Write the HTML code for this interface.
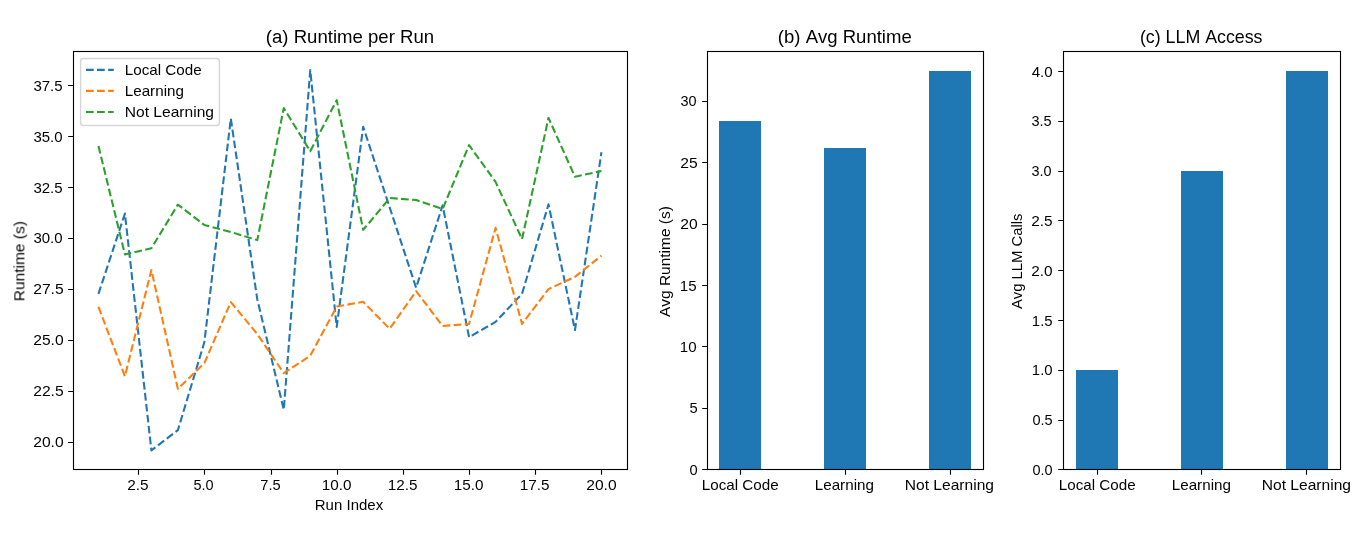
<!DOCTYPE html>
<html><head><meta charset="utf-8"><title>Runtime comparison</title>
<style>html,body{margin:0;padding:0;background:#fff;width:1370px;height:549px;overflow:hidden}svg{display:block}text{font-family:"Liberation Sans",sans-serif}</style>
</head><body>
<svg width="1370" height="549" viewBox="0 0 1370 549"><rect x="0" y="0" width="1370" height="549" fill="#ffffff"/>
<rect x="719" y="121" width="42" height="348.5" fill="#1f77b4"/>
<rect x="824" y="148" width="42" height="321.5" fill="#1f77b4"/>
<rect x="929" y="71" width="42" height="398.5" fill="#1f77b4"/>
<rect x="1076" y="370" width="42" height="99.5" fill="#1f77b4"/>
<rect x="1181" y="171" width="42" height="298.5" fill="#1f77b4"/>
<rect x="1286" y="71" width="42" height="398.5" fill="#1f77b4"/>
<polyline points="98.45,293.86 124.92,213.56 151.4,450.39 177.87,430.16 204.34,342.29 230.82,118.54 257.29,299.38 283.77,409.72 310.24,70.11 336.71,326.97 363.19,126.72 389.66,207.43 416.13,287.73 442.61,205.39 469.08,337.18 495.56,321.86 522.03,293.86 548.5,204.36 574.98,330.03 601.45,152.26" fill="none" stroke="#1f77b4" stroke-width="2.08" stroke-dasharray="7.71 3.33" stroke-linecap="butt" stroke-linejoin="round"/>
<polyline points="98.45,306.94 124.92,376.21 151.4,269.96 177.87,388.88 204.34,363.13 230.82,302.04 257.29,334.12 283.77,373.15 310.24,355.78 336.71,306.53 363.19,301.83 389.66,328.81 416.13,291.21 442.61,325.94 469.08,323.9 495.56,227.86 522.03,323.9 548.5,289.16 574.98,276.9 601.45,255.65" fill="none" stroke="#ff7f0e" stroke-width="2.08" stroke-dasharray="7.71 3.33" stroke-linecap="butt" stroke-linejoin="round"/>
<polyline points="98.45,145.92 124.92,254.43 151.4,248.3 177.87,204.57 204.34,225 230.82,231.95 257.29,240.12 283.77,108.12 310.24,151.24 336.71,100.15 363.19,229.91 389.66,198.03 416.13,200.07 442.61,209.06 469.08,145.11 495.56,181.89 522.03,239.1 548.5,117.93 574.98,176.78 601.45,171.06" fill="none" stroke="#2ca02c" stroke-width="2.08" stroke-dasharray="7.71 3.33" stroke-linecap="butt" stroke-linejoin="round"/>
<rect x="73.5" y="51.5" width="554" height="418" fill="none" stroke="#000" stroke-width="1.11" stroke-linejoin="miter"/>
<rect x="707.5" y="51.5" width="276" height="418" fill="none" stroke="#000" stroke-width="1.11" stroke-linejoin="miter"/>
<rect x="1063.5" y="51.5" width="277" height="418" fill="none" stroke="#000" stroke-width="1.11" stroke-linejoin="miter"/>
<path d="M138.5 469.5V474.81M204.5 469.5V474.81M271.5 469.5V474.81M337.5 469.5V474.81M403.5 469.5V474.81M469.5 469.5V474.81M535.5 469.5V474.81M601.5 469.5V474.81M73.5 85.5H68.19M73.5 136.5H68.19M73.5 187.5H68.19M73.5 238.5H68.19M73.5 289.5H68.19M73.5 340.5H68.19M73.5 391.5H68.19M73.5 442.5H68.19M740.5 469.5V474.81M845.5 469.5V474.81M950.5 469.5V474.81M707.5 101.5H702.19M707.5 162.5H702.19M707.5 224.5H702.19M707.5 285.5H702.19M707.5 346.5H702.19M707.5 408.5H702.19M707.5 469.5H702.19M1097.5 469.5V474.81M1201.5 469.5V474.81M1306.5 469.5V474.81M1063.5 71.5H1058.19M1063.5 121.5H1058.19M1063.5 171.5H1058.19M1063.5 220.5H1058.19M1063.5 270.5H1058.19M1063.5 320.5H1058.19M1063.5 370.5H1058.19M1063.5 420.5H1058.19M1063.5 469.5H1058.19" stroke="#000" stroke-width="1.11" fill="none"/>
<rect x="80.6" y="58.5" width="138.85" height="67" rx="2.78" ry="2.78" fill="#ffffff" fill-opacity="0.8" stroke="#cccccc" stroke-opacity="0.8" stroke-width="1.39"/>
<path d="M86 69.9H113.78" stroke="#1f77b4" stroke-width="2.08" stroke-dasharray="7.71 3.33" fill="none"/>
<path d="M86 90.9H113.78" stroke="#ff7f0e" stroke-width="2.08" stroke-dasharray="7.71 3.33" fill="none"/>
<path d="M86 112H113.78" stroke="#2ca02c" stroke-width="2.08" stroke-dasharray="7.71 3.33" fill="none"/>
<g font-family="'Liberation Sans', sans-serif" fill="#000" style="font-kerning:none" opacity="0.999"><text transform="translate(314.77,509.68) scale(1.0194,1)" font-size="14.717">Run Index</text><text transform="translate(127.22,490.12) scale(1.0471,1)" font-size="14.717">2.5</text><text transform="translate(193.42,490.12) scale(0.9847,1)" font-size="14.717">5.0</text><text transform="translate(260.25,490.12) scale(0.9955,1)" font-size="14.717">7.5</text><text transform="translate(321.84,490.12) scale(1.0391,1)" font-size="14.717">10.0</text><text transform="translate(387.83,490.12) scale(1.0407,1)" font-size="14.717">12.5</text><text transform="translate(453.84,490.12) scale(1.0391,1)" font-size="14.717">15.0</text><text transform="translate(519.83,490.12) scale(1.0407,1)" font-size="14.717">17.5</text><text transform="translate(586.21,490.12) scale(1.0612,1)" font-size="14.717">20.0</text><text transform="translate(24.4,301.27) rotate(-90) scale(1.0551,1)" font-size="14.717">Runtime (s)</text><text transform="translate(33.21,446.92) scale(1.0612,1)" font-size="14.717">20.0</text><text transform="translate(33.21,396.06) scale(1.0628,1)" font-size="14.717">22.5</text><text transform="translate(33.21,345.21) scale(1.0612,1)" font-size="14.717">25.0</text><text transform="translate(33.21,294.35) scale(1.0628,1)" font-size="14.717">27.5</text><text transform="translate(33.43,243.49) scale(1.0179,1)" font-size="14.717">30.0</text><text transform="translate(33.43,192.63) scale(1.0195,1)" font-size="14.717">32.5</text><text transform="translate(33.43,141.78) scale(1.0179,1)" font-size="14.717">35.0</text><text transform="translate(33.43,90.92) scale(1.0195,1)" font-size="14.717">37.5</text><text transform="translate(265.85,42.77) scale(1.0523,1)" font-size="17.660">(a) Runtime per Run</text><text transform="translate(124.75,74.6) scale(1.0332,1)" font-size="14.717">Local Code</text><text transform="translate(124.75,95.54) scale(1.0340,1)" font-size="14.717">Learning</text><text transform="translate(124.72,117.3) scale(1.0595,1)" font-size="14.717">Not Learning</text><text transform="translate(701.75,490.12) scale(1.0332,1)" font-size="14.717">Local Code</text><text transform="translate(814.75,490.12) scale(1.0340,1)" font-size="14.717">Learning</text><text transform="translate(904.72,490.12) scale(1.0595,1)" font-size="14.717">Not Learning</text><text transform="translate(670.1,317.03) rotate(-90) scale(1.0521,1)" font-size="14.717">Avg Runtime (s)</text><text transform="translate(689.43,474.9) scale(0.9950,1)" font-size="14.717">0</text><text transform="translate(689.41,413.44) scale(1.0032,1)" font-size="14.717">5</text><text transform="translate(679.85,351.98) scale(1.0222,1)" font-size="14.717">10</text><text transform="translate(679.85,290.52) scale(1.0252,1)" font-size="14.717">15</text><text transform="translate(680.21,229.06) scale(1.0628,1)" font-size="14.717">20</text><text transform="translate(680.21,167.6) scale(1.0658,1)" font-size="14.717">25</text><text transform="translate(680.45,106.14) scale(0.9846,1)" font-size="14.717">30</text><text transform="translate(777.85,42.77) scale(1.0500,1)" font-size="17.660">(b) Avg Runtime</text><text transform="translate(1058.75,490.12) scale(1.0332,1)" font-size="14.717">Local Code</text><text transform="translate(1171.75,490.12) scale(1.0340,1)" font-size="14.717">Learning</text><text transform="translate(1261.72,490.12) scale(1.0595,1)" font-size="14.717">Not Learning</text><text transform="translate(1022.12,309.03) rotate(-90) scale(1.0073,1)" font-size="14.717">Avg LLM Calls</text><text transform="translate(1032.43,474.9) scale(0.9840,1)" font-size="14.717">0.0</text><text transform="translate(1032.43,425.1) scale(0.9862,1)" font-size="14.717">0.5</text><text transform="translate(1031.86,375.3) scale(1.0127,1)" font-size="14.717">1.0</text><text transform="translate(1031.86,325.51) scale(1.0150,1)" font-size="14.717">1.5</text><text transform="translate(1031.23,275.71) scale(1.0447,1)" font-size="14.717">2.0</text><text transform="translate(1031.22,225.91) scale(1.0471,1)" font-size="14.717">2.5</text><text transform="translate(1031.45,176.11) scale(0.9833,1)" font-size="14.717">3.0</text><text transform="translate(1031.45,126.32) scale(0.9855,1)" font-size="14.717">3.5</text><text transform="translate(1031.65,76.52) scale(1.0232,1)" font-size="14.717">4.0</text><text transform="translate(1139.9,42.77) scale(1.0088,1)" font-size="17.660">(c) LLM Access</text></g></svg>
</body></html>
